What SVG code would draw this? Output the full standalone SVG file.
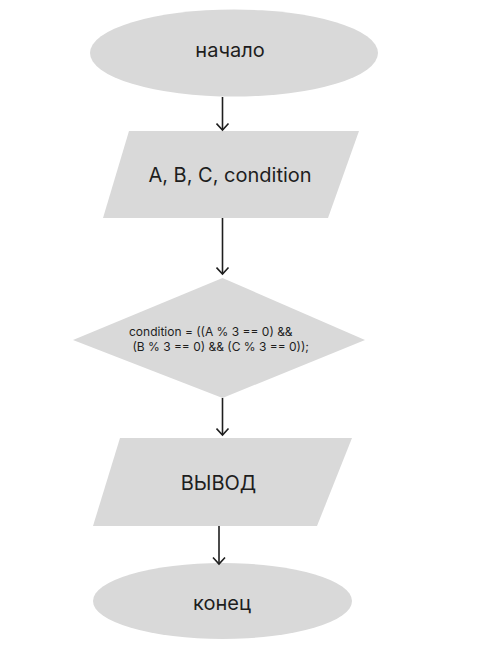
<svg xmlns="http://www.w3.org/2000/svg" width="488" height="646" viewBox="0 0 488 646">
<defs>
<style>
.shape{fill:#d9d9d9;stroke:none}
.t{font-family:Inter,"Noto Sans","Liberation Sans",sans-serif;fill:#1e1e1e;text-anchor:middle}
.big{font-size:20px}
.small{font-size:12px;text-anchor:start}
.conn{stroke:#1e1e1e;stroke-width:1.6;fill:none}
</style>
<marker id="arr" markerWidth="10" markerHeight="14" refX="8" refY="7" orient="auto" markerUnits="userSpaceOnUse" viewBox="0 0 10 14">
<path d="M1.5,1 L8,7 L1.5,13" fill="none" stroke="#1e1e1e" stroke-width="1.6"/>
</marker>
</defs>
<rect width="488" height="646" fill="#ffffff"/>
<g id="start">
<ellipse class="shape" cx="234" cy="53" rx="144" ry="43.5"/>
<text class="t big" x="230" y="57">начало</text>
</g>
<g id="input">
<polygon class="shape" points="129,131 359,131 328,218 103,218"/>
<text class="t big" x="230" y="182">A, B, C, condition</text>
</g>
<g id="decision">
<polygon class="shape" points="222.5,278 365,340 222.5,398 73,340"/>
<text class="t small" x="129" y="335.5">condition = ((A % 3 == 0) &amp;&amp;</text>
<text class="t small" x="129" y="351" xml:space="preserve"> (B % 3 == 0) &amp;&amp; (C % 3 == 0));</text>
</g>
<g id="output">
<polygon class="shape" points="120,438 352,438 317,526 93,526"/>
<text class="t big" x="218.5" y="489.5">ВЫВОД</text>
</g>
<g id="end">
<ellipse class="shape" cx="222.5" cy="601" rx="129.5" ry="38"/>
<text class="t big" x="222" y="609.5">конец</text>
</g>
<g id="connectors">
<line class="conn" x1="222.5" y1="97" x2="222.5" y2="130" marker-end="url(#arr)"/>
<line class="conn" x1="222.5" y1="218" x2="222.5" y2="274" marker-end="url(#arr)"/>
<line class="conn" x1="222.5" y1="398" x2="222.5" y2="435" marker-end="url(#arr)"/>
<line class="conn" x1="219" y1="526" x2="219" y2="564" marker-end="url(#arr)"/>
</g>
</svg>
